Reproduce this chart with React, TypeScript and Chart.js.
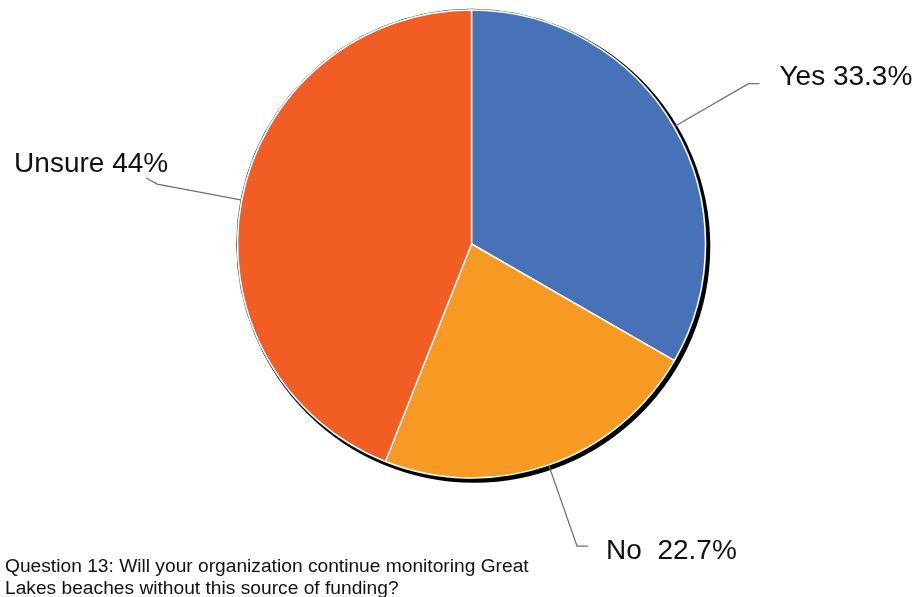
import React, { useEffect, useRef } from "react";
import { Chart, registerables } from "chart.js";

Chart.register(...registerables);

const categories = ["Yes", "No", "Unsure"];
const values = [33.3, 22.7, 44];
const labelTexts = ["Yes 33.3%", "No  22.7%", "Unsure 44%"];
const colors = ["#4872B8", "#F69A24", "#F15D23"];
// leader elbow (relative) and text offset (relative to elbow end), text alignment
const elbowDX = [11, 11, -11];
const elbowDY = [0, 0, -6];
const textDX = [20, 18, 22];
const textDY = [-6, 5, -14];
const textAlign: CanvasTextAlign[] = ["left", "left", "right"];
const caption = [
  "Question 13: Will your organization continue monitoring Great",
  "Lakes beaches without this source of funding?",
];

const shadowPlugin = {
  id: "pieShadow",
  beforeDatasetsDraw(chart: any) {
    const arc = chart.getDatasetMeta(0).data[0];
    if (!arc) return;
    const { x, y, outerRadius } = arc.getProps(["x", "y", "outerRadius"], true);
    const ctx = chart.ctx;
    ctx.save();
    ctx.fillStyle = "#000";
    ctx.beginPath();
    ctx.arc(x + 2.6, y + 2.6, outerRadius + 2.2, 0, Math.PI * 2);
    ctx.fill();
    ctx.strokeStyle = "#333";
    ctx.lineWidth = 1;
    ctx.beginPath();
    ctx.arc(x, y, outerRadius + 0.8, 0, Math.PI * 2);
    ctx.stroke();
    ctx.restore();
  },
};

const labelPlugin = {
  id: "pieLabels",
  afterDatasetsDraw(chart: any) {
    const ctx = chart.ctx;
    const meta = chart.getDatasetMeta(0);
    ctx.save();
    meta.data.forEach((arc: any, i: number) => {
      const { x, y, startAngle, endAngle, outerRadius } = arc.getProps(
        ["x", "y", "startAngle", "endAngle", "outerRadius"],
        true
      );
      const mid = (startAngle + endAngle) / 2;
      const x0 = x + Math.cos(mid) * (outerRadius + 1);
      const y0 = y + Math.sin(mid) * (outerRadius + 1);
      const x1 = x + Math.cos(mid) * (outerRadius + 86);
      const y1 = y + Math.sin(mid) * (outerRadius + 86);
      const x2 = x1 + elbowDX[i];
      const y2 = y1 + elbowDY[i];
      ctx.strokeStyle = "#707070";
      ctx.lineWidth = 1.3;
      ctx.beginPath();
      ctx.moveTo(x0, y0);
      ctx.lineTo(x1, y1);
      ctx.lineTo(x2, y2);
      ctx.stroke();
      ctx.fillStyle = "#111";
      ctx.font = "28px Arial, 'Liberation Sans', sans-serif";
      ctx.textAlign = textAlign[i];
      ctx.textBaseline = "middle";
      ctx.fillText(labelTexts[i], x2 + textDX[i], y2 + textDY[i]);
    });
    ctx.restore();
  },
};

export default function App() {
  const ref = useRef<HTMLCanvasElement>(null);
  useEffect(() => {
    if (!ref.current) return;
    const chart = new Chart(ref.current, {
      type: "pie",
      data: {
        labels: categories,
        datasets: [
          {
            data: values,
            backgroundColor: colors,
            borderColor: "#ffffff",
            borderWidth: 1.5,
            radius: 234,
          } as any,
        ],
      },
      options: {
        animation: false,
        responsive: false,
        maintainAspectRatio: false,
        layout: { padding: { left: 26, right: 0, top: 0, bottom: 109 } },
        plugins: {
          legend: { display: false },
          tooltip: { enabled: false },
        },
      },
      plugins: [shadowPlugin, labelPlugin],
    });
    return () => chart.destroy();
  }, []);
  return (
    <div style={{ position: "fixed", left: 0, top: 0, width: 917, height: 597, background: "#fff" }}>
      <canvas ref={ref} width={917} height={597} style={{ position: "absolute", left: 0, top: 0 }} />
      <div
        style={{
          position: "absolute",
          left: 5,
          top: 555,
          font: "19.2px Arial, 'Liberation Sans', sans-serif",
          lineHeight: "22px",
          color: "#111",
          whiteSpace: "pre",
        }}
      >
        {caption.map((c, i) => (
          <div key={i}>{c}</div>
        ))}
      </div>
    </div>
  );
}
